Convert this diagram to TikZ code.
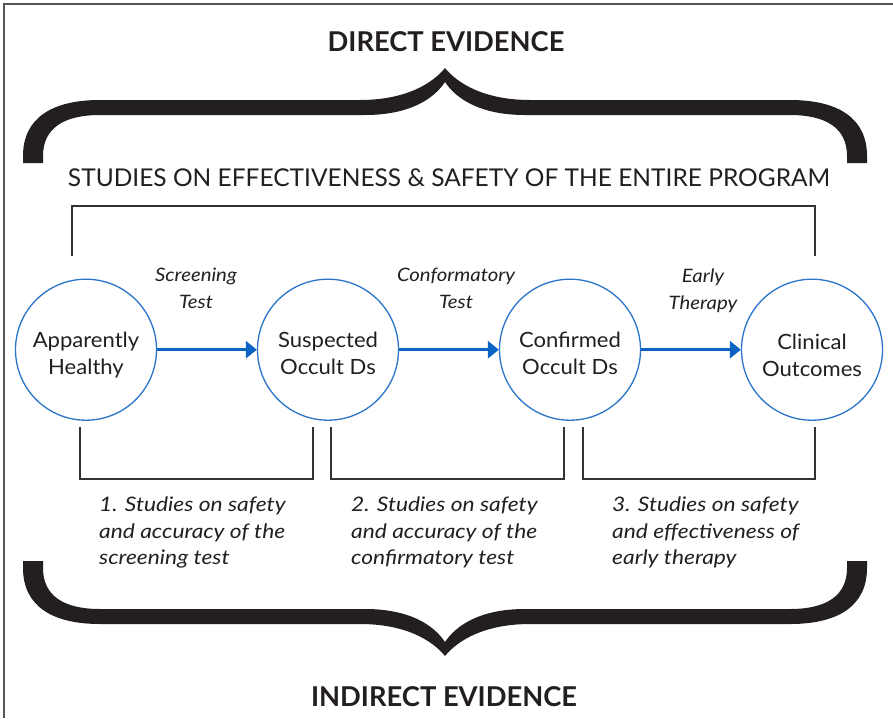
\documentclass[tikz,border=0pt]{standalone}
\usepackage{fontspec}
\setmainfont{Lato}
% slightly widened cuts of the same family for the body texts
\newfontfamily\stagefont[FakeStretch=1.05]{Lato}
\newfontfamily\labelfont[FakeStretch=1.10]{Lato}
\newfontfamily\studyfont[FakeStretch=1.14]{Lato}
\usetikzlibrary{arrows.meta}

\definecolor{ink}{HTML}{231F20}
\definecolor{ringblue}{HTML}{2A74C9}
\definecolor{flowblue}{HTML}{0B63C4}
\definecolor{rulegray}{HTML}{333333}
\definecolor{framegray}{HTML}{555555}

% Filled curly brace (opening downwards), drawn in pixel-like units
\newcommand\evidencebrace{%
  \fill[ink]
    (23,163) -- (23,156) .. controls (23,118) and (52,100) .. (100,100)
    -- (360,100) .. controls (405,100) and (432,84) .. (445,68)
    .. controls (458,84) and (485,100) .. (530,100)
    -- (790,100) .. controls (838,100) and (867,118) .. (867,156)
    -- (867,163) -- (847,163) -- (847,156)
    .. controls (847,128) and (826,115) .. (790,115)
    -- (525,115) .. controls (482,115) and (457,100) .. (445,82)
    .. controls (433,100) and (408,115) .. (365,115)
    -- (100,115) .. controls (64,115) and (43,128) .. (43,156)
    -- (43,163) -- cycle;}

\tikzset{
  stage/.style={circle, draw=ringblue, line width=1.3pt, minimum size=141pt, inner sep=0pt},
  stagetext/.style={align=center, text=ink, inner sep=0pt,
    font=\stagefont\fontsize{21}{27}\selectfont},
  steplabel/.style={align=center, text=ink, inner sep=0pt,
    font=\labelfont\itshape\fontsize{18.5}{27}\selectfont},
  studytext/.style={align=left, text=ink, inner sep=0pt, anchor=north west,
    font=\studyfont\itshape\fontsize{20}{26.5}\selectfont},
  flow/.style={draw=flowblue, line width=3pt, -{Triangle[length=11pt,width=17pt]}},
  bracket/.style={draw=rulegray, line width=1.4pt},
  heading/.style={text=ink, inner sep=0pt, font=\bfseries\fontsize{27.3}{32}\selectfont},
}

\begin{document}
\begin{tikzpicture}[x=1pt, y=-1pt]
  \useasboundingbox (0,0) rectangle (893,718);
  \fill[white] (0,0) rectangle (893,718);

  % partial frame
  \draw[framegray, line width=1.6pt] (3.8,718) -- (3.8,4) -- (893,4);

  % headings and braces
  \node[heading] (direct) at (446,42) {DIRECT EVIDENCE};
  \evidencebrace
  \begin{scope}[yshift=-724pt, yscale=-1]
    \evidencebrace
  \end{scope}
  \node[heading] (indirect) at (444,697) {INDIRECT EVIDENCE};

  \node[text=ink, inner sep=0pt, font=\fontsize{24.5}{28}\selectfont] (entire) at (449,178)
    {STUDIES ON EFFECTIVENESS \& SAFETY OF THE ENTIRE PROGRAM};

  % stages
  \node[stage] (c1) at (86,349.7) {};
  \node[stage] (c2) at (328,349.7) {};
  \node[stage] (c3) at (570,349.7) {};
  \node[stage] (c4) at (812,349.7) {};

  \node[stagetext] (t1) at (86,355) {Apparently\\Healthy};
  \node[stagetext] (t2) at (328,353) {Suspected\\Occult Ds};
  \node[stagetext] (t3) at (570,353) {Confirmed\\Occult Ds};
  \node[stagetext] (t4) at (812,355) {Clinical\\Outcomes};

  % transitions
  \draw[flow] (c1) -- (c2);
  \draw[flow] (c2) -- (c3);
  \draw[flow] (c3) -- (c4);

  \node[steplabel] (l1) at (196,288) {Screening\\Test};
  \node[steplabel] (l2) at (456,288) {Conformatory\\Test};
  \node[steplabel] (l3) at (703,291) {Early\\Therapy};

  % whole-program bracket
  \coordinate (pl) at (72,256);
  \coordinate (pr) at (815,256);
  \coordinate (pm) at (449,206);
  \draw[bracket] (pl) |- (pm) -| (pr);

  % step brackets
  \coordinate (b1l) at (80,427);   \coordinate (b1r) at (313,427);  \coordinate (b1m) at (196,479);
  \coordinate (b2l) at (331,427);  \coordinate (b2r) at (564,427);  \coordinate (b2m) at (447,479);
  \coordinate (b3l) at (583,427);  \coordinate (b3r) at (815,427);  \coordinate (b3m) at (699,479);
  \draw[bracket] (b1l) |- (b1m) -| (b1r);
  \draw[bracket] (b2l) |- (b2m) -| (b2r);
  \draw[bracket] (b3l) |- (b3m) -| (b3r);

  \node[studytext] (s1) at (99,497) {1. Studies on safety\\and accuracy of the\\screening test};
  \node[studytext] (s2) at (351,497) {2. Studies on safety\\and accuracy of the\\confirmatory test};
  \node[studytext] (s3) at (612,497) {3. Studies on safety\\and effectiveness of\\early therapy};
\end{tikzpicture}
\end{document}
